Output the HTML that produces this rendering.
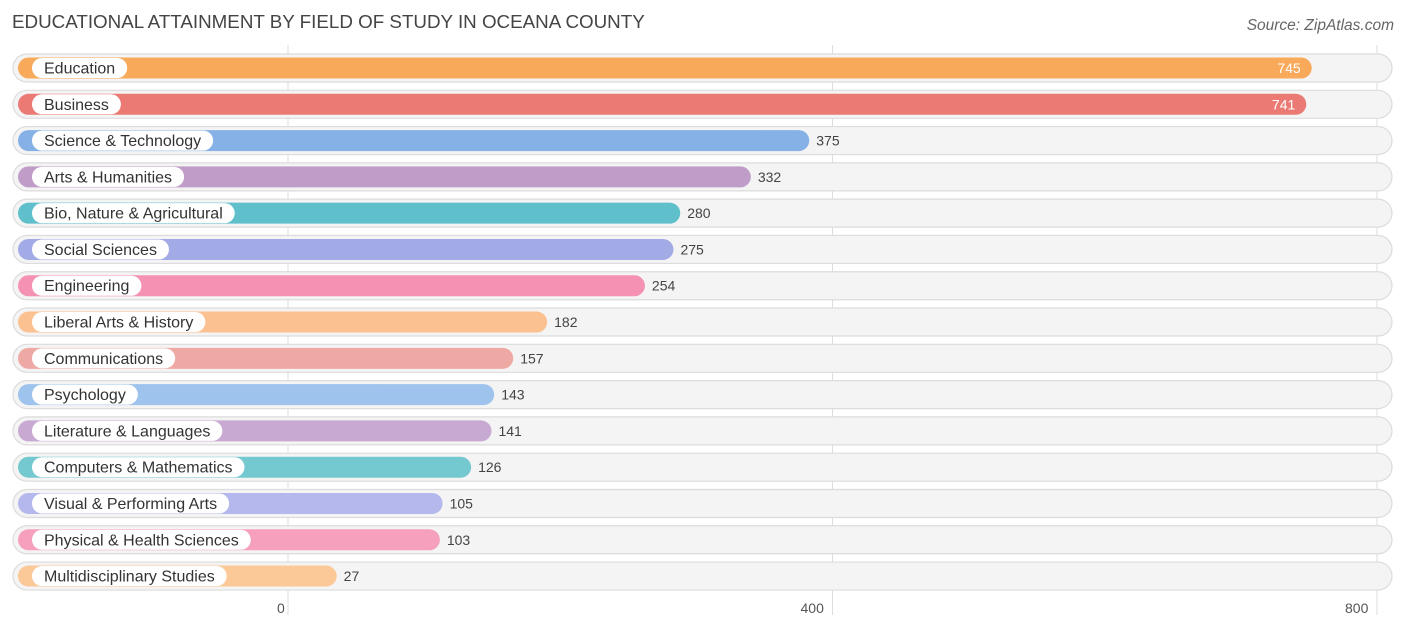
<!DOCTYPE html>
<html><head><meta charset="utf-8"><style>
body{margin:0;background:#fff;font-family:"Liberation Sans",sans-serif;}
svg text{font-family:"Liberation Sans",sans-serif;}
</style></head><body>
<svg id="chart" width="1406" height="631">
<text x="12" y="28" font-size="18.8" fill="#444">EDUCATIONAL ATTAINMENT BY FIELD OF STUDY IN OCEANA COUNTY</text>
<text x="1394" y="30" font-size="15.5" fill="#666" font-style="italic" text-anchor="end">Source: ZipAtlas.com</text>
<g id="grid"></g><g id="rows"></g><g id="ticks"></g>
</svg>
<script>
const categories=["Education","Business","Science & Technology","Arts & Humanities","Bio, Nature & Agricultural","Social Sciences","Engineering","Liberal Arts & History","Communications","Psychology","Literature & Languages","Computers & Mathematics","Visual & Performing Arts","Physical & Health Sciences","Multidisciplinary Studies"];
const values=[745,741,375,332,280,275,254,182,157,143,141,126,105,103,27];
const tickValues=[0,400,800];
const tickLabels=["0","400","800"];
const colors=["#f8a95a","#ec7a74","#86b1e6","#c09dc8","#5fbfcb","#a3abe6","#f592b3","#fbc190","#efa9a4","#9ec3ec","#c8a9d2","#74c8cf","#b4b8ec","#f6a0be","#fbc898"];
const NS="http://www.w3.org/2000/svg";
const gx=v=>288+v*(1377-288)/800;
const bx=v=>300+v*1.358;
const rowY=i=>68+i*36.29;
function mk(t,a,p){const e=document.createElementNS(NS,t);for(const k in a)e.setAttribute(k,a[k]);p.appendChild(e);return e;}
const grid=document.getElementById('grid'),rows=document.getElementById('rows'),ticks=document.getElementById('ticks');
tickValues.forEach((v,i)=>{
 const l=mk('line',{x1:gx(v),x2:gx(v),y1:45,y2:615,stroke:'#ddd','stroke-width':1},grid);
 
 
 const t=mk('text',{x:gx(v)+(i==0?-11:i==2?-32:-32),y:613,'font-size':14,fill:'#555'},ticks);
 t.textContent=tickLabels[i];
 
 
});
categories.forEach((c,i)=>{
 const y=rowY(i);
 const g=mk('g',{},rows);
 
 
 const bg=mk('rect',{x:13,y:y-14,width:1379,height:28,rx:14,fill:'#f4f4f4',stroke:'#dcdcdc','stroke-width':1.2},g);
 
 
 const end=bx(values[i]);
 const b=mk('rect',{x:18,y:y-10.5,width:end-18,height:21,rx:10.5,fill:colors[i]},g);
 
 
 const lp=mk('rect',{x:32,y:y-10,width:40,height:20,rx:10,fill:'#fff'},g);
 
 
 const lt=mk('text',{x:44,y:y+5.5,'font-size':16,fill:'#333'},g);
 lt.textContent=c;
 
 
 lp.setAttribute('width',lt.getComputedTextLength()+24);
 const inside=values[i]>600;
 const vt=mk('text',{x:inside?end-11:end+7,y:y+5,'font-size':14,fill:inside?'#fff':'#444','text-anchor':inside?'end':'start'},g);
 vt.textContent=values[i];
 
 
});
</script>
</body></html>
